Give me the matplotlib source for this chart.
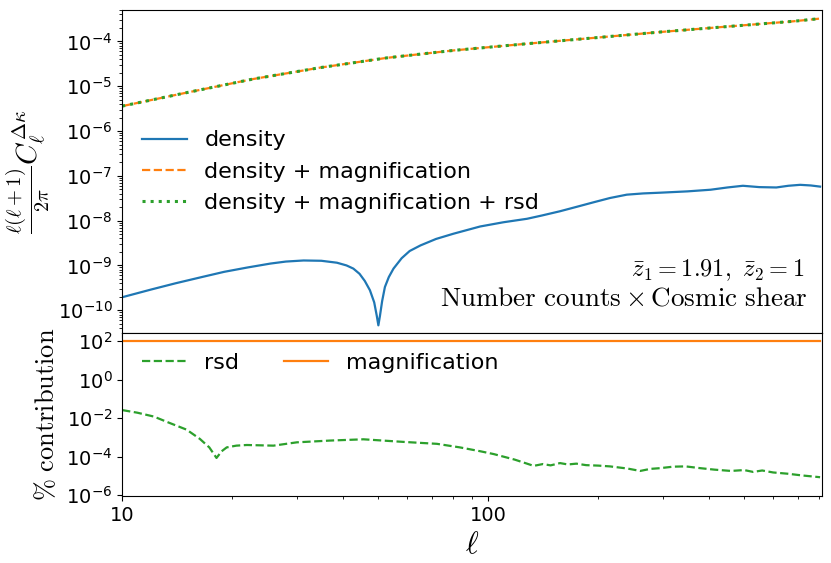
import matplotlib
matplotlib.use("Agg")
import matplotlib.pyplot as plt

plt.rcParams['mathtext.fontset'] = 'cm'
plt.rcParams['axes.unicode_minus'] = False

# multipoles
ell_top = [10, 15, 22.8, 34.7, 52.8, 80.3, 127.6, 194, 294, 447, 682, 806]
# density + magnification (the + rsd curve lies on top of it)
dens_mag = [3.6e-6, 7.2e-6, 1.45e-5, 2.6e-5, 4.3e-5, 6.3e-5, 8.9e-5,
            1.2e-4, 1.62e-4, 2.14e-4, 2.82e-4, 3.24e-4]
dens_mag_rsd = [3.6e-6, 7.2e-6, 1.45e-5, 2.6e-5, 4.3e-5, 6.3e-5, 8.9e-5,
                1.2e-4, 1.62e-4, 2.14e-4, 2.82e-4, 3.24e-4]

ell_dens = [10, 12, 14, 16.5, 19, 22, 25.4, 28, 31.3, 35, 38.6, 41, 42.8,
            44.5, 46, 47.5, 48.8, 49.6, 50.1, 50.6, 51.3, 52.2, 53.5, 55.1,
            58, 61, 65.3, 72, 80.3, 95, 110, 127.6, 140, 157, 175, 194, 215,
            239, 265, 294, 350, 405, 450, 496, 550, 612, 660, 711, 760, 806]
density = [1.95e-10, 2.9e-10, 4.0e-10, 5.5e-10, 7.2e-10, 9.0e-10, 1.1e-9,
           1.22e-9, 1.29e-9, 1.27e-9, 1.15e-9, 1.0e-9, 8.5e-10, 6.5e-10,
           4.5e-10, 2.8e-10, 1.5e-10, 7.5e-11, 4.6e-11, 7.5e-11, 1.6e-10,
           3.3e-10, 5.5e-10, 8.5e-10, 1.45e-9, 2.1e-9, 2.8e-9, 3.9e-9,
           5.1e-9, 7.4e-9, 9.2e-9, 1.1e-8, 1.3e-8, 1.62e-8, 2.05e-8, 2.57e-8,
           3.2e-8, 3.8e-8, 4.05e-8, 4.2e-8, 4.5e-8, 4.9e-8, 5.5e-8, 6.0e-8,
           5.6e-8, 5.5e-8, 6.0e-8, 6.3e-8, 6.1e-8, 5.75e-8]

ell_rsd = [10, 11, 12.2, 13.5, 15.0, 16.3, 17.3, 18.1, 18.7, 19.3, 20.5,
           21.9, 25.9, 30, 37.0, 45.6, 58.6, 72.4, 83.7, 95, 103.5, 118,
           127.6, 133, 141, 148, 157, 165, 174, 185, 200, 215, 240, 260, 277,
           294, 320, 346, 380, 415, 460, 500, 529, 560, 600, 655, 720, 806]
rsd = [2.6e-2, 1.9e-2, 1.2e-2, 5.5e-3, 2.5e-3, 8.3e-4, 3.0e-4, 8.5e-5,
       1.9e-4, 3.0e-4, 3.7e-4, 4.0e-4, 3.7e-4, 5.5e-4, 6.8e-4, 7.9e-4,
       5.8e-4, 4.6e-4, 3.0e-4, 1.9e-4, 1.35e-4, 7.0e-5, 4.3e-5, 3.3e-5,
       4.1e-5, 3.5e-5, 4.6e-5, 3.9e-5, 4.3e-5, 3.6e-5, 3.4e-5, 3.1e-5,
       2.4e-5, 1.8e-5, 2.3e-5, 2.5e-5, 3.0e-5, 3.1e-5, 2.5e-5, 2.1e-5,
       1.8e-5, 2.0e-5, 1.6e-5, 1.9e-5, 1.5e-5, 1.3e-5, 1.05e-5, 8.5e-6]

ell_mag = [10, 806]
magnification = [100, 100]

fig = plt.figure(figsize=(8.31, 5.63), dpi=100)
ax1 = fig.add_axes([0.147, 0.4085, 0.842, 0.5735])
ax2 = fig.add_axes([0.147, 0.119, 0.842, 0.2895], sharex=ax1)

ax1.loglog(ell_dens, density, color='tab:blue', lw=1.6, label='density')
ax1.loglog(ell_top, dens_mag, color='tab:orange', ls='--', lw=1.6,
           label='density + magnification')
ax1.loglog(ell_top, dens_mag_rsd, color='tab:green', ls=':', lw=2.2,
           label='density + magnification + rsd')
ax1.set_ylim(3.1e-11, 5e-4)
ax1.set_yticks([1e-10, 1e-9, 1e-8, 1e-7, 1e-6, 1e-5, 1e-4])
ax1.set_ylabel(r'$\frac{\ell(\ell+1)}{2\pi}C_\ell^{\Delta\kappa}$', fontsize=21)
ax1.legend(loc='center left', frameon=False, fontsize=16)
ax1.text(0.975, 0.195, r'$\bar{z}_1 = 1.91,\ \bar{z}_2 = 1$',
         transform=ax1.transAxes, ha='right', va='center', fontsize=17.5)
ax1.text(0.980, 0.108, r'$\mathrm{Number\ counts} \times \mathrm{Cosmic\ shear}$',
         transform=ax1.transAxes, ha='right', va='center', fontsize=19.5)
ax1.tick_params(labelsize=14, labelbottom=False)

ax2.loglog(ell_rsd, rsd, color='tab:green', ls='--', lw=1.6, label='rsd')
ax2.loglog(ell_mag, magnification, color='tab:orange', lw=1.6,
           label='magnification')
ax2.set_ylim(9e-7, 260)
ax2.set_yticks([1e-6, 1e-4, 1e-2, 1, 1e2])
ax2.set_xlim(10, 815)
ax2.set_xticks([10, 100])
ax2.set_xticklabels(['10', '100'])
ax2.set_ylabel(r'$\%\ \mathrm{contribution}$', fontsize=19)
ax2.set_xlabel(r'$\ell$', fontsize=22)
ax2.legend(loc='upper left', ncol=2, frameon=False, fontsize=16)
ax2.tick_params(labelsize=14)

fig.align_ylabels([ax1, ax2])
fig.savefig('out.png', dpi=100)
